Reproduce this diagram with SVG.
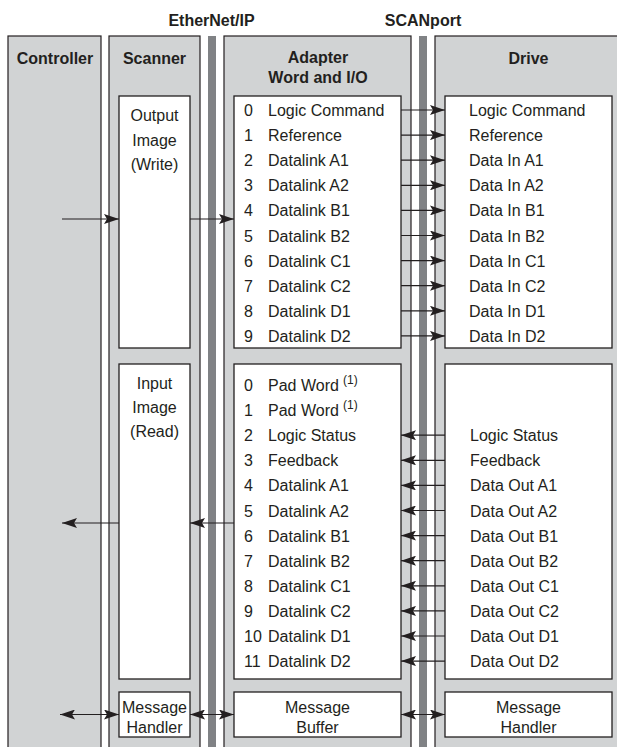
<svg xmlns="http://www.w3.org/2000/svg" width="617" height="747" viewBox="0 0 617 747">
<style>
  .col{fill:#d1d3d4;stroke:#231f20;stroke-width:1.2}
  .bar{fill:#808285;stroke:none}
  .box{fill:#ffffff;stroke:#231f20;stroke-width:1.3}
  .hd{font-family:"Liberation Sans",Arial,sans-serif;font-weight:bold;font-size:16px;fill:#231f20;text-anchor:middle}
  .t{font-family:"Liberation Sans",Arial,sans-serif;font-size:16px;fill:#231f20}
  .c{text-anchor:middle}
  .sup{font-family:"Liberation Sans",Arial,sans-serif;font-size:12px;fill:#231f20}
  .ln{stroke:#231f20;stroke-width:1.2;fill:none}
</style>
<defs>
  <marker id="ah" markerUnits="userSpaceOnUse" markerWidth="15" markerHeight="10" refX="15" refY="5" orient="auto-start-reverse">
    <path d="M0,0 L15,5 L0,10 L3,5 z" fill="#231f20"/>
  </marker>
</defs>
<rect width="617" height="747" fill="#ffffff"/>

<text class="hd" x="211.5" y="26">EtherNet/IP</text>
<text class="hd" x="423" y="26">SCANport</text>

<g id="controller">
  <rect class="col" x="8" y="36" width="93" height="730"/>
  <text class="hd" x="55" y="64">Controller</text>
</g>

<g id="scanner">
  <rect class="col" x="109" y="36" width="91" height="730"/>
  <text class="hd" x="154.5" y="64">Scanner</text>
</g>

<g id="ethernet-bar">
  <rect class="bar" x="208" y="36" width="8" height="730"/>
</g>

<g id="adapter">
  <rect class="col" x="224" y="36" width="187" height="730"/>
  <text class="hd" x="318" y="63">Adapter</text>
  <text class="hd" x="318" y="83">Word and I/O</text>
</g>

<g id="scanport-bar">
  <rect class="bar" x="419" y="36" width="8" height="730"/>
</g>

<g id="drive">
  <rect class="col" x="435" y="36" width="200" height="730"/>
  <text class="hd" x="528.5" y="64">Drive</text>
</g>

<g id="output-image">
  <rect class="box" x="119" y="96" width="71" height="252"/>
  <text class="t c" x="154.5" y="121">Output</text>
  <text class="t c" x="154.5" y="146">Image</text>
  <text class="t c" x="154.5" y="170">(Write)</text>
</g>

<g id="input-image">
  <rect class="box" x="119" y="364" width="71" height="315"/>
  <text class="t c" x="154.5" y="389">Input</text>
  <text class="t c" x="154.5" y="413">Image</text>
  <text class="t c" x="154.5" y="437">(Read)</text>
</g>

<g id="scanner-message-handler">
  <rect class="box" x="119" y="692" width="71" height="45"/>
  <text class="t c" x="154.5" y="712.5">Message</text>
  <text class="t c" x="154.5" y="733">Handler</text>
</g>

<g id="adapter-output">
  <rect class="box" x="234" y="96" width="167" height="252"/>
  <g class="t">
    <text x="244" y="116">0</text><text x="268" y="116">Logic Command</text>
    <text x="244" y="141.1">1</text><text x="268" y="141.1">Reference</text>
    <text x="244" y="166.2">2</text><text x="268" y="166.2">Datalink A1</text>
    <text x="244" y="191.3">3</text><text x="268" y="191.3">Datalink A2</text>
    <text x="244" y="216.4">4</text><text x="268" y="216.4">Datalink B1</text>
    <text x="244" y="241.5">5</text><text x="268" y="241.5">Datalink B2</text>
    <text x="244" y="266.6">6</text><text x="268" y="266.6">Datalink C1</text>
    <text x="244" y="291.7">7</text><text x="268" y="291.7">Datalink C2</text>
    <text x="244" y="316.8">8</text><text x="268" y="316.8">Datalink D1</text>
    <text x="244" y="341.9">9</text><text x="268" y="341.9">Datalink D2</text>
  </g>
</g>

<g id="adapter-input">
  <rect class="box" x="234" y="364" width="167" height="315"/>
  <g class="t">
    <text x="244" y="391">0</text><text x="268" y="391">Pad Word</text>
    <text x="244" y="416.1">1</text><text x="268" y="416.1">Pad Word</text>
    <text x="244" y="441.2">2</text><text x="268" y="441.2">Logic Status</text>
    <text x="244" y="466.3">3</text><text x="268" y="466.3">Feedback</text>
    <text x="244" y="491.4">4</text><text x="268" y="491.4">Datalink A1</text>
    <text x="244" y="516.5">5</text><text x="268" y="516.5">Datalink A2</text>
    <text x="244" y="541.6">6</text><text x="268" y="541.6">Datalink B1</text>
    <text x="244" y="566.7">7</text><text x="268" y="566.7">Datalink B2</text>
    <text x="244" y="591.8">8</text><text x="268" y="591.8">Datalink C1</text>
    <text x="244" y="616.9">9</text><text x="268" y="616.9">Datalink C2</text>
    <text x="244" y="642">10</text><text x="268" y="642">Datalink D1</text>
    <text x="244" y="667.1">11</text><text x="268" y="667.1">Datalink D2</text>
  </g>
  <text class="sup" x="343" y="384">(1)</text>
  <text class="sup" x="343" y="409.1">(1)</text>
</g>

<g id="adapter-message-buffer">
  <rect class="box" x="234" y="692" width="167" height="45"/>
  <text class="t c" x="317.5" y="712.5">Message</text>
  <text class="t c" x="317.5" y="733">Buffer</text>
</g>

<g id="drive-output">
  <rect class="box" x="445" y="96" width="167" height="252"/>
  <g class="t">
    <text x="469" y="116">Logic Command</text>
    <text x="469" y="141.1">Reference</text>
    <text x="469" y="166.2">Data In A1</text>
    <text x="469" y="191.3">Data In A2</text>
    <text x="469" y="216.4">Data In B1</text>
    <text x="469" y="241.5">Data In B2</text>
    <text x="469" y="266.6">Data In C1</text>
    <text x="469" y="291.7">Data In C2</text>
    <text x="469" y="316.8">Data In D1</text>
    <text x="469" y="341.9">Data In D2</text>
  </g>
</g>

<g id="drive-input">
  <rect class="box" x="445" y="364" width="167" height="315"/>
  <g class="t">
    <text x="470" y="441.2">Logic Status</text>
    <text x="470" y="466.3">Feedback</text>
    <text x="470" y="491.4">Data Out A1</text>
    <text x="470" y="516.5">Data Out A2</text>
    <text x="470" y="541.6">Data Out B1</text>
    <text x="470" y="566.7">Data Out B2</text>
    <text x="470" y="591.8">Data Out C1</text>
    <text x="470" y="616.9">Data Out C2</text>
    <text x="470" y="642">Data Out D1</text>
    <text x="470" y="667.1">Data Out D2</text>
  </g>
</g>

<g id="drive-message-handler">
  <rect class="box" x="445" y="692" width="167" height="45"/>
  <text class="t c" x="528.5" y="712.5">Message</text>
  <text class="t c" x="528.5" y="733">Handler</text>
</g>

<g id="connectors" class="ln" marker-end="url(#ah)">
  <line x1="62" y1="219" x2="119" y2="219"/>
  <line x1="190" y1="219" x2="234" y2="219"/>
  <line x1="401" y1="110" x2="445" y2="110"/>
  <line x1="401" y1="135.1" x2="445" y2="135.1"/>
  <line x1="401" y1="160.2" x2="445" y2="160.2"/>
  <line x1="401" y1="185.3" x2="445" y2="185.3"/>
  <line x1="401" y1="210.4" x2="445" y2="210.4"/>
  <line x1="401" y1="235.5" x2="445" y2="235.5"/>
  <line x1="401" y1="260.6" x2="445" y2="260.6"/>
  <line x1="401" y1="285.7" x2="445" y2="285.7"/>
  <line x1="401" y1="310.8" x2="445" y2="310.8"/>
  <line x1="401" y1="335.9" x2="445" y2="335.9"/>
  <line x1="445" y1="435.2" x2="401" y2="435.2"/>
  <line x1="445" y1="460.3" x2="401" y2="460.3"/>
  <line x1="445" y1="485.4" x2="401" y2="485.4"/>
  <line x1="445" y1="510.5" x2="401" y2="510.5"/>
  <line x1="445" y1="535.6" x2="401" y2="535.6"/>
  <line x1="445" y1="560.7" x2="401" y2="560.7"/>
  <line x1="445" y1="585.8" x2="401" y2="585.8"/>
  <line x1="445" y1="610.9" x2="401" y2="610.9"/>
  <line x1="445" y1="636" x2="401" y2="636"/>
  <line x1="445" y1="661.1" x2="401" y2="661.1"/>
  <line x1="119" y1="523" x2="62" y2="523"/>
  <line x1="234" y1="523" x2="190" y2="523"/>
  <line x1="60" y1="714.5" x2="119" y2="714.5" marker-start="url(#ah)"/>
  <line x1="190" y1="714.5" x2="234" y2="714.5" marker-start="url(#ah)"/>
  <line x1="401" y1="714.5" x2="445" y2="714.5" marker-start="url(#ah)"/>
</g>
</svg>
